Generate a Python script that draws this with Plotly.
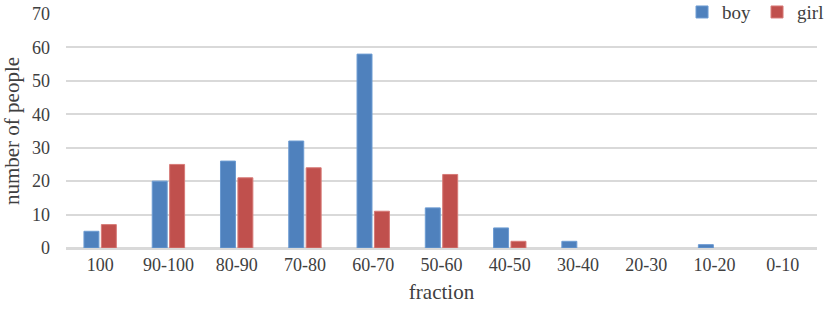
import plotly.graph_objects as go

categories = ["100", "90-100", "80-90", "70-80", "60-70", "50-60", "40-50", "30-40", "20-30", "10-20", "0-10"]
boy = [5, 20, 26, 32, 58, 12, 6, 2, 0, 1, 0]
girl = [7, 25, 21, 24, 11, 22, 2, 0, 0, 0, 0]

def outline(vals):
    return [1 if v > 0 else 0 for v in vals]

fig = go.Figure()
fig.add_trace(go.Bar(name="boy", x=categories, y=boy,
                     marker=dict(color="#4F81BD", line=dict(color="#6C9BD2", width=outline(boy)))))
fig.add_trace(go.Bar(name="girl", x=categories, y=girl,
                     marker=dict(color="#C0504D", line=dict(color="#D77A77", width=outline(girl)))))

font_family = "Times New Roman, Liberation Serif, DejaVu Serif, serif"
fig.update_layout(
    width=829, height=313,
    margin=dict(l=66, r=12, t=14, b=65, autoexpand=False),
    paper_bgcolor="white", plot_bgcolor="white",
    barmode="group", bargap=0.49, bargroupgap=0.14,
    font=dict(family=font_family, size=18, color="#404040"),
    legend=dict(orientation="h", x=1.02, xanchor="right", y=1.008, yanchor="middle",
                bgcolor="rgba(0,0,0,0)", font=dict(family=font_family, size=19, color="#404040"),
                itemwidth=30, tracegroupgap=0, entrywidth=30, entrywidthmode="pixels"),
    showlegend=True,
)
fig.update_xaxes(title=dict(text="fraction", font=dict(family=font_family, size=21), standoff=10),
                 showgrid=False, showline=True, linecolor="#D9D9D9", linewidth=1.5,
                 ticks="", tickfont=dict(family=font_family, size=18))
fig.update_yaxes(title=dict(text="number of people", font=dict(family=font_family, size=21), standoff=8),
                 range=[0, 70], dtick=10, showgrid=True, gridcolor="#D9D9D9", gridwidth=1.5,
                 zeroline=True, zerolinecolor="#D9D9D9", zerolinewidth=1.5,
                 showline=False, ticks="", ticklabelstandoff=15,
                 tickfont=dict(family=font_family, size=18))

fig.write_html("out.html", config={"displayModeBar": False},
               post_script="document.body.style.margin='0';")
